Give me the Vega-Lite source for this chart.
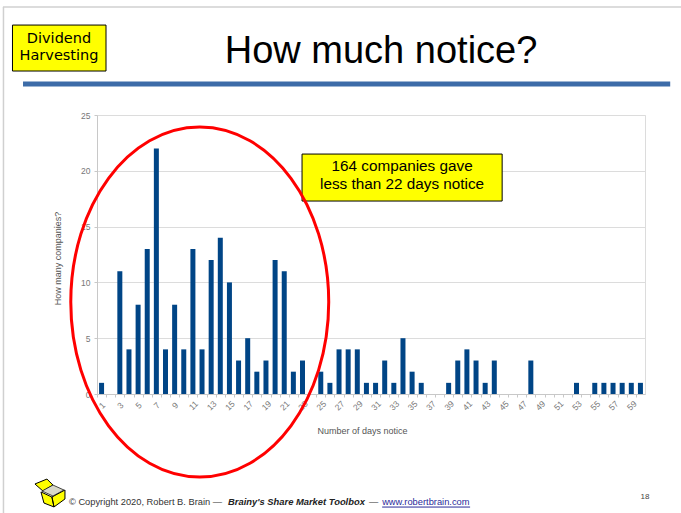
{
"$schema":"https://vega.github.io/schema/vega-lite/v6.json",
"width":548,"height":279,"autosize":{"type":"none"},
"padding":{"left":97,"top":115,"right":36,"bottom":119},
"background":"white",
"view":{"stroke":"#dcdcdc"},
"config":{"font":"Liberation Sans"},
"datasets":{
"bars":[{"day":1,"count":1},{"day":2,"count":0},{"day":3,"count":11},{"day":4,"count":4},{"day":5,"count":8},{"day":6,"count":13},{"day":7,"count":22},{"day":8,"count":4},{"day":9,"count":8},{"day":10,"count":4},{"day":11,"count":13},{"day":12,"count":4},{"day":13,"count":12},{"day":14,"count":14},{"day":15,"count":10},{"day":16,"count":3},{"day":17,"count":5},{"day":18,"count":2},{"day":19,"count":3},{"day":20,"count":12},{"day":21,"count":11},{"day":22,"count":2},{"day":23,"count":3},{"day":24,"count":0},{"day":25,"count":2},{"day":26,"count":1},{"day":27,"count":4},{"day":28,"count":4},{"day":29,"count":4},{"day":30,"count":1},{"day":31,"count":1},{"day":32,"count":3},{"day":33,"count":1},{"day":34,"count":5},{"day":35,"count":2},{"day":36,"count":1},{"day":37,"count":0},{"day":38,"count":0},{"day":39,"count":1},{"day":40,"count":3},{"day":41,"count":4},{"day":42,"count":3},{"day":43,"count":1},{"day":44,"count":3},{"day":45,"count":0},{"day":46,"count":0},{"day":47,"count":0},{"day":48,"count":3},{"day":49,"count":0},{"day":50,"count":0},{"day":51,"count":0},{"day":52,"count":0},{"day":53,"count":1},{"day":54,"count":0},{"day":55,"count":1},{"day":56,"count":1},{"day":57,"count":1},{"day":58,"count":1},{"day":59,"count":1},{"day":60,"count":1}]
},
"encoding":{
"x":{"field":"day","type":"quantitative","title":"Number of days notice",
"scale":{"domain":[0.5,60.5],"nice":false,"zero":false,"padding":0},
"axis":{"grid":false,"domainColor":"#c8c8c8","tickColor":"#c8c8c8","tickSize":3,
"values":[0.5,1,1.5,2.5,3,3.5,4.5,5,5.5,6.5,7,7.5,8.5,9,9.5,10.5,11,11.5,12.5,13,13.5,14.5,15,15.5,16.5,17,17.5,18.5,19,19.5,20.5,21,21.5,22.5,23,23.5,24.5,25,25.5,26.5,27,27.5,28.5,29,29.5,30.5,31,31.5,32.5,33,33.5,34.5,35,35.5,36.5,37,37.5,38.5,39,39.5,40.5,41,41.5,42.5,43,43.5,44.5,45,45.5,46.5,47,47.5,48.5,49,49.5,50.5,51,51.5,52.5,53,53.5,54.5,55,55.5,56.5,57,57.5,58.5,59,59.5],
"tickOpacity":{"condition":{"test":"datum.value % 1 !== 0","value":1},"value":0},
"labelExpr":"datum.value % 1 === 0 ? datum.value : ''",
"labelAngle":-45,"labelAlign":"center","labelBaseline":"middle","labelPadding":8,"labelFontSize":8.5,"labelColor":"#777777","labelOverlap":false,"labelBound":false,"labelFlush":false,
"titleFontSize":9,"titleFontWeight":"normal","titleColor":"#555555","titleX":265,"titleY":32}},
"y":{"field":"count","type":"quantitative","title":"How many companies?",
"scale":{"domain":[0,25],"nice":false},
"axis":{"values":[0,5,10,15,20,25],"grid":true,"gridColor":"#dcdcdc","domainColor":"#c8c8c8","tickColor":"#c8c8c8","tickSize":3,"labelFontSize":8.5,"labelColor":"#777777","labelPadding":4,"titleFontSize":9,"titleFontWeight":"normal","titleColor":"#555555","titleX":-35,"titleY":143}}
},
"layer":[
{"data":{"name":"bars"},"mark":{"type":"bar","width":5,"color":"#004586"}},
{"data":{"values":[{"day":-9.8,"day2":64.5,"count":34.68}]},"mark":{"type":"rule","color":"#d0d0d0","strokeWidth":1.5},"encoding":{"x2":{"field":"day2"}}},
{"data":{"values":[{"day":-9.74,"count":34.68,"count2":-10.66}]},"mark":{"type":"rule","color":"#d0d0d0","strokeWidth":1.5},"encoding":{"y2":{"field":"count2"}}},
{"data":{"values":[{"day":-7.6,"day2":63.26,"count":27.78}]},"mark":{"type":"rule","color":"#3d6ca8","strokeWidth":5},"encoding":{"x2":{"field":"day2"}}},
{"data":{"values":[{"day":-8.755,"day2":1.486,"count":33.06,"count2":28.94},{"day":22.95,"day2":44.86,"count":21.5,"count2":17.29}]},"mark":{"type":"rect","fill":"#ffff00","stroke":"#000000","strokeWidth":1},"encoding":{"x2":{"field":"day2"},"y2":{"field":"count2"}}},
{"data":{"values":[{"day":-3.66,"count":31.82,"label":"Dividend"},{"day":-3.66,"count":30.3,"label":"Harvesting"}]},"mark":{"type":"text","font":"DejaVu Sans","fontSize":14.5,"color":"#000000"},"encoding":{"text":{"field":"label"}}},
{"data":{"values":[{"day":33.9,"count":20.45,"label":"164 companies gave"},{"day":33.9,"count":18.84,"label":"less than 22 days notice"}]},"mark":{"type":"text","fontSize":15.3,"color":"#000000"},"encoding":{"text":{"field":"label"}}},
{"data":{"values":[{"day":31.6,"count":30.65,"label":"How much notice?"}]},"mark":{"type":"text","fontSize":38,"color":"#000000"},"encoding":{"text":{"field":"label"}}},
{"data":{"values":[{"day":11.75,"count":8.24}]},"mark":{"type":"point","shape":"M-0.737,0A0.737,1 0 1,1 0.737,0A0.737,1 0 1,1 -0.737,0Z","size":122500,"filled":false,"stroke":"#ff0000","strokeWidth":3,"opacity":1}},
{"data":{"values":[{"day":-2.57,"count":-9.68,"label":"© Copyright 2020, Robert B. Brain —"}]},"mark":{"type":"text","align":"left","fontSize":9.3,"color":"#333333"},"encoding":{"text":{"field":"label"}}},
{"data":{"values":[{"day":14.85,"count":-9.68,"label":"Brainy's Share Market Toolbox"}]},"mark":{"type":"text","align":"left","fontSize":9.4,"fontWeight":"bold","fontStyle":"italic","color":"#222222"},"encoding":{"text":{"field":"label"}}},
{"data":{"values":[{"day":30.29,"count":-9.68,"label":"—"}]},"mark":{"type":"text","align":"left","fontSize":9.3,"color":"#333333"},"encoding":{"text":{"field":"label"}}},
{"data":{"values":[{"day":31.72,"count":-9.68,"label":"www.robertbrain.com"}]},"mark":{"type":"text","align":"left","fontSize":9.3,"color":"#2a2a9a"},"encoding":{"text":{"field":"label"}}},
{"data":{"values":[{"day":31.72,"day2":41.35,"count":-10.13}]},"mark":{"type":"rule","color":"#2a2a9a","strokeWidth":1},"encoding":{"x2":{"field":"day2"}}},
{"data":{"values":[{"day":60.5,"count":-9.23,"label":"18"}]},"mark":{"type":"text","fontSize":8,"color":"#444444"},"encoding":{"text":{"field":"label"}}},
{"data":{"values":[{"day":-4.65,"count":-8.87}]},"mark":{"type":"point","shape":"M-0.6,-0.07L0.13,0.27L0.27,0.93L-0.4,0.67ZM0.13,0.27L1,-0.2L1,0.4L0.27,0.93ZM-1,-0.6L-0.2,-0.93L0.2,-0.53L-0.47,-0.13Z","size":900,"filled":true,"fill":"#ffff00","stroke":"#000000","strokeWidth":1,"opacity":1}},
{"data":{"values":[{"day":-4.65,"count":-8.87}]},"mark":{"type":"point","shape":"M-0.53,-0.13L0.2,0.2L0.93,-0.2L0.2,-0.53Z","size":900,"filled":true,"fill":"#d8d8c8","stroke":"#000000","strokeWidth":0.7,"opacity":1}}
]
}
